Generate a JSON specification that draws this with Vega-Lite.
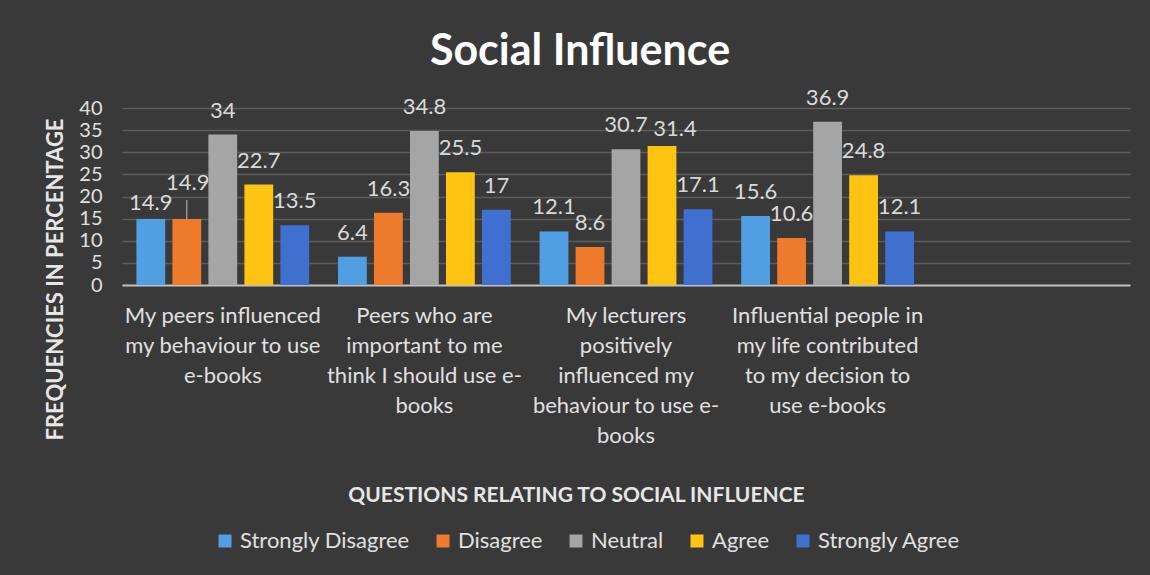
{
  "$schema": "https://vega.github.io/schema/vega-lite/v6.json",
  "autosize": "none",
  "width": 1008,
  "height": 177,
  "padding": {"left": 122, "top": 108, "right": 20, "bottom": 290},
  "background": "#393939",
  "title": {
    "text": "Social Influence",
    "font": "Lato",
    "fontSize": 43,
    "fontWeight": "bold",
    "color": "#ffffff",
    "anchor": "middle",
    "frame": "group",
    "offset": 13,
    "dx": -46
  },
  "data": {
    "values": [
      {"qid": "Q1", "q": "My peers influenced|my behaviour to use|e-books", "resp": "Strongly Disagree", "pct": 14.9},
      {"qid": "Q1", "q": "My peers influenced|my behaviour to use|e-books", "resp": "Disagree", "pct": 14.9},
      {"qid": "Q1", "q": "My peers influenced|my behaviour to use|e-books", "resp": "Neutral", "pct": 34},
      {"qid": "Q1", "q": "My peers influenced|my behaviour to use|e-books", "resp": "Agree", "pct": 22.7},
      {"qid": "Q1", "q": "My peers influenced|my behaviour to use|e-books", "resp": "Strongly Agree", "pct": 13.5},
      {"qid": "Q2", "q": "Peers who are|important to me|think I should use e-|books", "resp": "Strongly Disagree", "pct": 6.4},
      {"qid": "Q2", "q": "Peers who are|important to me|think I should use e-|books", "resp": "Disagree", "pct": 16.3},
      {"qid": "Q2", "q": "Peers who are|important to me|think I should use e-|books", "resp": "Neutral", "pct": 34.8},
      {"qid": "Q2", "q": "Peers who are|important to me|think I should use e-|books", "resp": "Agree", "pct": 25.5},
      {"qid": "Q2", "q": "Peers who are|important to me|think I should use e-|books", "resp": "Strongly Agree", "pct": 17},
      {"qid": "Q3", "q": "My lecturers|positively|influenced my|behaviour to use e-|books", "resp": "Strongly Disagree", "pct": 12.1},
      {"qid": "Q3", "q": "My lecturers|positively|influenced my|behaviour to use e-|books", "resp": "Disagree", "pct": 8.6},
      {"qid": "Q3", "q": "My lecturers|positively|influenced my|behaviour to use e-|books", "resp": "Neutral", "pct": 30.7},
      {"qid": "Q3", "q": "My lecturers|positively|influenced my|behaviour to use e-|books", "resp": "Agree", "pct": 31.4},
      {"qid": "Q3", "q": "My lecturers|positively|influenced my|behaviour to use e-|books", "resp": "Strongly Agree", "pct": 17.1},
      {"qid": "Q4", "q": "Influential people in|my life contributed|to my decision to|use e-books", "resp": "Strongly Disagree", "pct": 15.6},
      {"qid": "Q4", "q": "Influential people in|my life contributed|to my decision to|use e-books", "resp": "Disagree", "pct": 10.6},
      {"qid": "Q4", "q": "Influential people in|my life contributed|to my decision to|use e-books", "resp": "Neutral", "pct": 36.9},
      {"qid": "Q4", "q": "Influential people in|my life contributed|to my decision to|use e-books", "resp": "Agree", "pct": 24.8},
      {"qid": "Q4", "q": "Influential people in|my life contributed|to my decision to|use e-books", "resp": "Strongly Agree", "pct": 12.1}
    ]
  },
  "encoding": {
    "x": {
      "field": "q",
      "type": "nominal",
      "sort": null,
      "scale": {
        "domain": [
          "My peers influenced|my behaviour to use|e-books",
          "Peers who are|important to me|think I should use e-|books",
          "My lecturers|positively|influenced my|behaviour to use e-|books",
          "Influential people in|my life contributed|to my decision to|use e-books",
          " "
        ],
        "paddingInner": 0,
        "paddingOuter": 0
      },
      "axis": {
        "title": "QUESTIONS RELATING TO SOCIAL INFLUENCE",
        "titleFont": "Lato",
        "titleFontSize": 21,
        "titleFontWeight": "bold",
        "titleColor": "#e6e6e6",
        "titleX": 454,
        "titleY": 199,
        "labelExpr": "split(datum.label, '|')",
        "labelAngle": 0,
        "labelFont": "Lato",
        "labelFontSize": 22,
        "labelColor": "#e0e0e0",
        "labelLineHeight": 30,
        "labelPadding": 20,
        "labelLimit": 300,
        "ticks": false,
        "domainColor": "#bfbfbf",
        "domainWidth": 2,
        "grid": false
      }
    },
    "xOffset": {
      "field": "resp",
      "type": "nominal",
      "scale": {
        "domain": ["Strongly Disagree", "Disagree", "Neutral", "Agree", "Strongly Agree"],
        "paddingInner": 0.2,
        "paddingOuter": 0.4
      }
    },
    "y": {
      "field": "pct",
      "type": "quantitative",
      "scale": {"domain": [0, 40], "nice": false},
      "axis": {
        "title": "FREQUENCIES IN PERCENTAGE",
        "titleFont": "Lato",
        "titleFontSize": 22,
        "titleFontWeight": "bold",
        "titleColor": "#e6e6e6",
        "titleX": -55,
        "titleY": 171,
        "values": [0, 5, 10, 15, 20, 25, 30, 35, 40],
        "labelFont": "Lato",
        "labelFontSize": 20,
        "labelColor": "#e0e0e0",
        "labelPadding": 20,
        "ticks": false,
        "domain": false,
        "gridColor": "#5c5c5c",
        "gridWidth": 1.5
      }
    }
  },
  "layer": [
    {
      "mark": {"type": "bar"},
      "encoding": {
        "color": {
          "field": "resp",
          "type": "nominal",
          "scale": {
            "domain": ["Strongly Disagree", "Disagree", "Neutral", "Agree", "Strongly Agree"],
            "range": ["#519fe3", "#ee7a2b", "#a5a5a5", "#ffc311", "#3f70d0"]
          },
          "legend": {
            "orient": "none",
            "direction": "horizontal",
            "legendX": 92,
            "legendY": 422,
            "title": null,
            "symbolType": "square",
            "symbolSize": 169,
            "symbolStrokeWidth": 0,
            "labelFont": "Lato",
            "labelFontSize": 22,
            "labelLimit": 400,
            "labelColor": "#e0e0e0",
            "labelOffset": 4,
            "columnPadding": 22
          }
        }
      }
    },
    {
      "transform": [{"filter": "!((datum.qid == 'Q1' && (datum.resp == 'Strongly Disagree' || datum.resp == 'Disagree')) || (datum.qid == 'Q3' && datum.resp == 'Agree'))"}],
      "mark": {"type": "text", "dy": -24, "font": "Lato", "fontSize": 22, "color": "#d9d9d9"},
      "encoding": {"text": {"field": "pct", "type": "quantitative"}}
    },
    {
      "transform": [{"filter": "datum.qid == 'Q1' && datum.resp == 'Strongly Disagree'"}],
      "mark": {"type": "text", "dy": -16, "font": "Lato", "fontSize": 22, "color": "#d9d9d9"},
      "encoding": {"text": {"field": "pct", "type": "quantitative"}}
    },
    {
      "transform": [{"filter": "datum.qid == 'Q1' && datum.resp == 'Disagree'"}],
      "mark": {"type": "text", "dy": -36, "dx": 1, "font": "Lato", "fontSize": 22, "color": "#d9d9d9"},
      "encoding": {"text": {"field": "pct", "type": "quantitative"}}
    },
    {
      "transform": [{"filter": "datum.qid == 'Q1' && datum.resp == 'Disagree'"}],
      "mark": {"type": "rule", "color": "#bfbfbf", "strokeWidth": 1},
      "encoding": {"y2": {"datum": 19.2}}
    },
    {
      "transform": [{"filter": "datum.qid == 'Q3' && datum.resp == 'Agree'"}],
      "mark": {"type": "text", "dy": -17, "dx": 13, "font": "Lato", "fontSize": 22, "color": "#d9d9d9"},
      "encoding": {"text": {"field": "pct", "type": "quantitative"}}
    }
  ],
  "config": {
    "view": {"stroke": null}
  }
}
